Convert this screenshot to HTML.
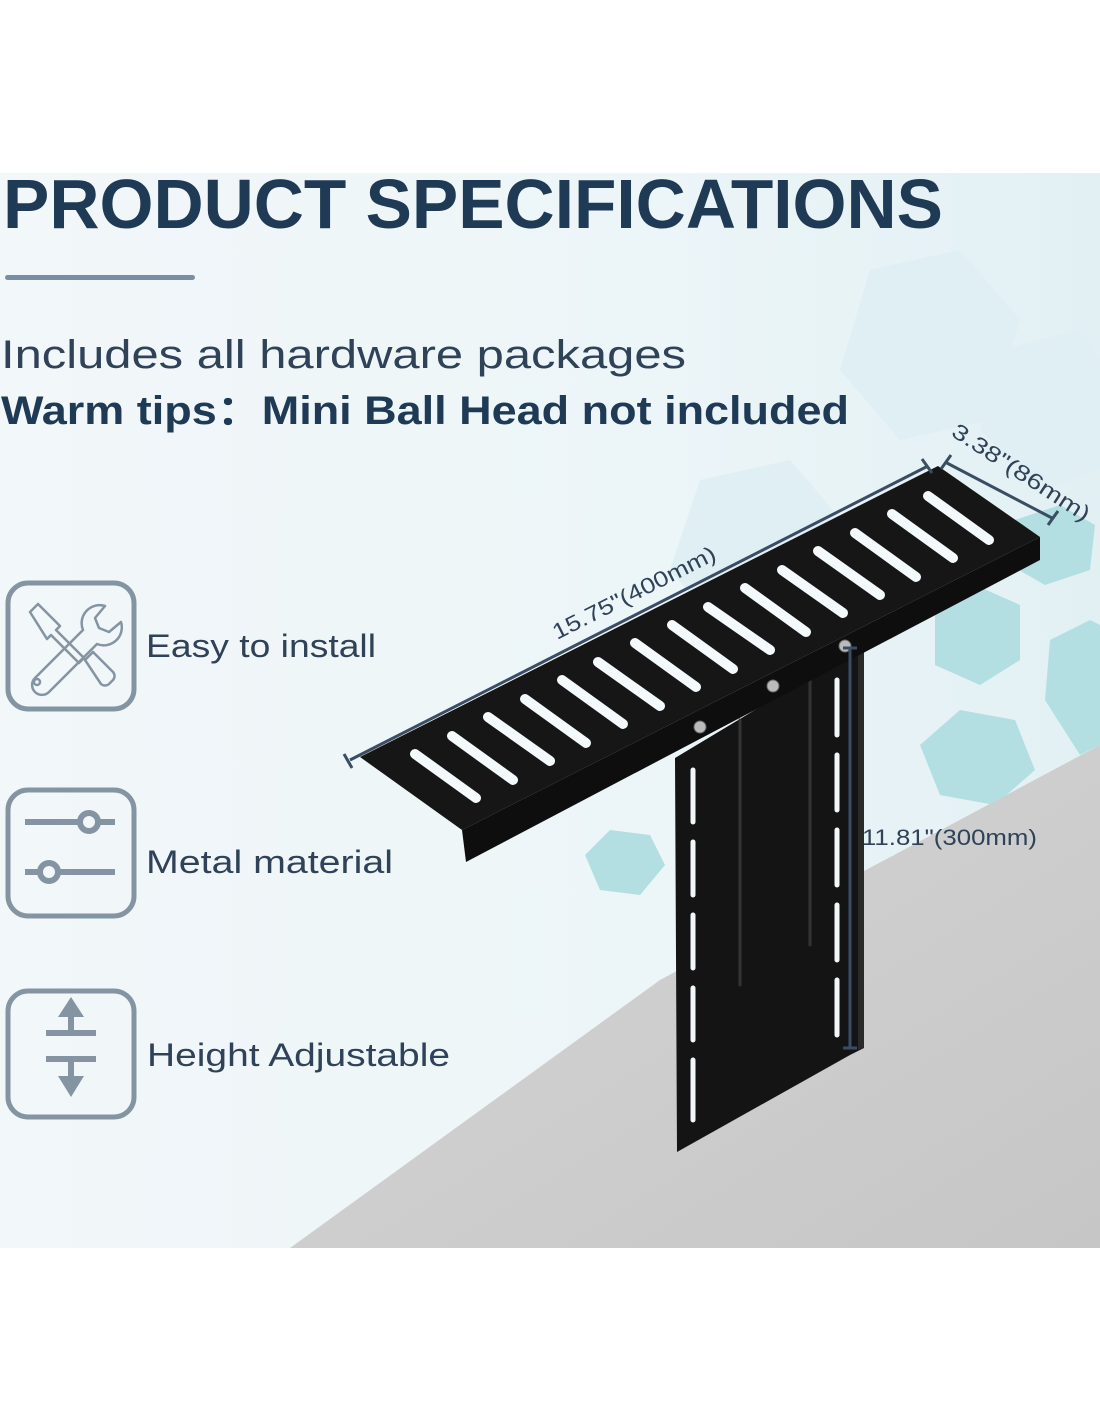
<!DOCTYPE html>
<html><head><meta charset="utf-8"><style>
html,body{margin:0;padding:0;background:#fff;}
svg{display:block;}
text{font-family:"Liberation Sans",sans-serif;}
</style></head><body>
<svg width="1100" height="1422" viewBox="0 0 1100 1422" xmlns="http://www.w3.org/2000/svg">
<defs>
<linearGradient id="bg" x1="0" y1="0" x2="1" y2="0">
<stop offset="0" stop-color="#f2f7f9"/><stop offset="0.6" stop-color="#ecf5f8"/><stop offset="1" stop-color="#e2f0f4"/>
</linearGradient>
<linearGradient id="wall" x1="0" y1="0" x2="1" y2="1">
<stop offset="0" stop-color="#d6d6d6"/><stop offset="1" stop-color="#c6c6c6"/>
</linearGradient>
</defs>
<rect x="0" y="173" width="1100" height="1075" fill="url(#bg)"/>
<!-- faint big hexagons -->
<g fill="#dfeff3">
<polygon points="870,270 960,250 1020,320 990,420 900,440 840,370"/>
<polygon points="700,480 790,460 850,530 820,620 730,640 670,570"/>
<polygon points="1000,350 1080,330 1100,360 1100,470 1040,490 980,430"/>
</g>
<!-- teal hexagons -->
<g fill="#b3dfe2">
<polygon points="935,610 975,585 1020,605 1020,660 980,685 935,665"/>
<polygon points="920,745 960,710 1015,720 1035,770 995,805 940,795"/>
<polygon points="1050,640 1090,620 1100,625 1100,745 1080,755 1045,700"/>
<polygon points="585,855 610,830 650,835 665,865 640,895 600,890"/>
<polygon points="1015,520 1060,505 1095,525 1090,570 1045,585 1010,565"/>
</g>
<polygon points="290,1248 660,980 1100,745 1100,1248" fill="url(#wall)"/>

<!-- title -->
<text x="3" y="228" font-size="70" font-weight="bold" fill="#1f3a55" textLength="940" lengthAdjust="spacingAndGlyphs">PRODUCT SPECIFICATIONS</text>
<rect x="5" y="275" width="190" height="5" rx="2.5" fill="#7a8ea3"/>
<text x="1" y="368" font-size="40" fill="#2f4258" textLength="685" lengthAdjust="spacingAndGlyphs">Includes all hardware packages</text>
<text x="1" y="424" font-size="40" font-weight="bold" fill="#1f3a55" textLength="848" lengthAdjust="spacingAndGlyphs">Warm tips：Mini Ball Head not included</text>

<!-- icons -->
<g fill="none" stroke="#8494a3" stroke-width="5">
<rect x="8" y="583" width="126" height="126" rx="20"/>
<rect x="8" y="790" width="126" height="126" rx="20"/>
<rect x="8" y="991" width="126" height="126" rx="20"/>
</g>
<g fill="none" stroke="#8494a3" stroke-width="2.5" stroke-linejoin="round">
<path d="M30,612 l8,-8 l22,22 l-4,4 l28,28 l-5,5 l-28,-28 l-4,4 z"/>
<path d="M85,660 l8,-8 l20,20 a6,6 0 0 1 0,8 l-4,4 a6,6 0 0 1 -8,0 z"/>
<path d="M35,678 l48,-48 a18,18 0 0 1 22,-24 l-10,12 l4,10 l10,4 l12,-10 a18,18 0 0 1 -24,22 l-48,48 a7,7 0 0 1 -14,-14 z"/>
<circle cx="37" cy="682" r="3"/>
</g>
<g stroke="#8494a3" stroke-width="6" fill="none">
<line x1="25" y1="822" x2="115" y2="822"/>
<line x1="25" y1="872" x2="115" y2="872"/>
<circle cx="89" cy="822" r="9" fill="#f2f7f9"/>
<circle cx="49" cy="872" r="9" fill="#f2f7f9"/>
<line x1="46" y1="1033" x2="96" y2="1033"/>
<line x1="46" y1="1059" x2="96" y2="1059"/>
<line x1="71" y1="1015" x2="71" y2="1033"/>
<line x1="71" y1="1059" x2="71" y2="1078"/>
</g>
<g fill="#8494a3">
<polygon points="71,997 58,1017 84,1017"/>
<polygon points="71,1097 58,1076 84,1076"/>
</g>
<g font-size="32" fill="#2f4258">
<text x="146" y="657" textLength="230" lengthAdjust="spacingAndGlyphs">Easy to install</text>
<text x="146" y="873" textLength="247" lengthAdjust="spacingAndGlyphs">Metal material</text>
<text x="147" y="1066" textLength="303" lengthAdjust="spacingAndGlyphs">Height Adjustable</text>
</g>

<!-- vertical plate -->
<polygon points="675,758 858,648 864,650 864,1048 850,1055 677,1152" fill="#141414"/>
<polygon points="858,648 864,650 864,1048 858,1050" fill="#2a2a2a"/>
<g stroke="#f2f7f9" stroke-width="5" stroke-linecap="round">
<line x1="693" y1="770" x2="693" y2="822"/><line x1="693" y1="842" x2="693" y2="895"/>
<line x1="693" y1="915" x2="693" y2="968"/><line x1="693" y1="988" x2="693" y2="1040"/>
<line x1="693" y1="1060" x2="693" y2="1120"/>
<line x1="837" y1="680" x2="837" y2="735"/><line x1="837" y1="755" x2="837" y2="810"/>
<line x1="837" y1="830" x2="837" y2="885"/><line x1="837" y1="905" x2="837" y2="960"/>
<line x1="837" y1="980" x2="837" y2="1035"/>
</g>
<g stroke="#333" stroke-width="3" stroke-linecap="round">
<line x1="740" y1="720" x2="740" y2="985"/>
<line x1="810" y1="680" x2="810" y2="945"/>
</g>

<!-- shelf -->
<polygon points="462,830 1040,537 1040,560 466,862" fill="#0e0e0e"/>
<polygon points="360,757 938,466 1040,537 462,830" fill="#161616"/>
<g stroke="#f4f9fb" stroke-width="10" stroke-linecap="round">
<line x1="415" y1="754" x2="476" y2="798"/>
<line x1="452" y1="736" x2="513" y2="780"/>
<line x1="488" y1="717" x2="550" y2="761"/>
<line x1="525" y1="699" x2="586" y2="743"/>
<line x1="562" y1="680" x2="623" y2="724"/>
<line x1="598" y1="662" x2="660" y2="706"/>
<line x1="635" y1="643" x2="696" y2="687"/>
<line x1="672" y1="625" x2="733" y2="669"/>
<line x1="708" y1="607" x2="770" y2="650"/>
<line x1="745" y1="588" x2="806" y2="632"/>
<line x1="782" y1="570" x2="843" y2="613"/>
<line x1="818" y1="551" x2="880" y2="595"/>
<line x1="855" y1="533" x2="916" y2="577"/>
<line x1="892" y1="514" x2="953" y2="558"/>
<line x1="928" y1="496" x2="989" y2="540"/>
</g>
<g fill="#bbb" stroke="#666" stroke-width="1">
<circle cx="700" cy="727" r="6"/><circle cx="773" cy="686" r="6"/><circle cx="845" cy="646" r="6"/>
</g>

<!-- dimension lines -->
<g stroke="#3a4d63" stroke-width="3" fill="none">
<line x1="350" y1="760" x2="928" y2="466"/>
<line x1="344" y1="754" x2="352" y2="768"/>
<line x1="922" y1="459" x2="932" y2="473"/>
<line x1="945" y1="462" x2="1052" y2="518"/>
<line x1="941" y1="469" x2="951" y2="455"/>
<line x1="1048" y1="525" x2="1058" y2="511"/>
<line x1="850" y1="648" x2="850" y2="1048"/>
<line x1="843" y1="648" x2="857" y2="648"/>
<line x1="843" y1="1048" x2="857" y2="1048"/>
</g>
<g font-size="22" fill="#2f4258">
<text transform="translate(557,640) rotate(-26.8)" textLength="180" lengthAdjust="spacingAndGlyphs">15.75"(400mm)</text>
<text transform="translate(950,435) rotate(33)" textLength="160" lengthAdjust="spacingAndGlyphs">3.38"(86mm)</text>
<text x="862" y="845" textLength="175" lengthAdjust="spacingAndGlyphs">11.81"(300mm)</text>
</g>
</svg>
</body></html>
